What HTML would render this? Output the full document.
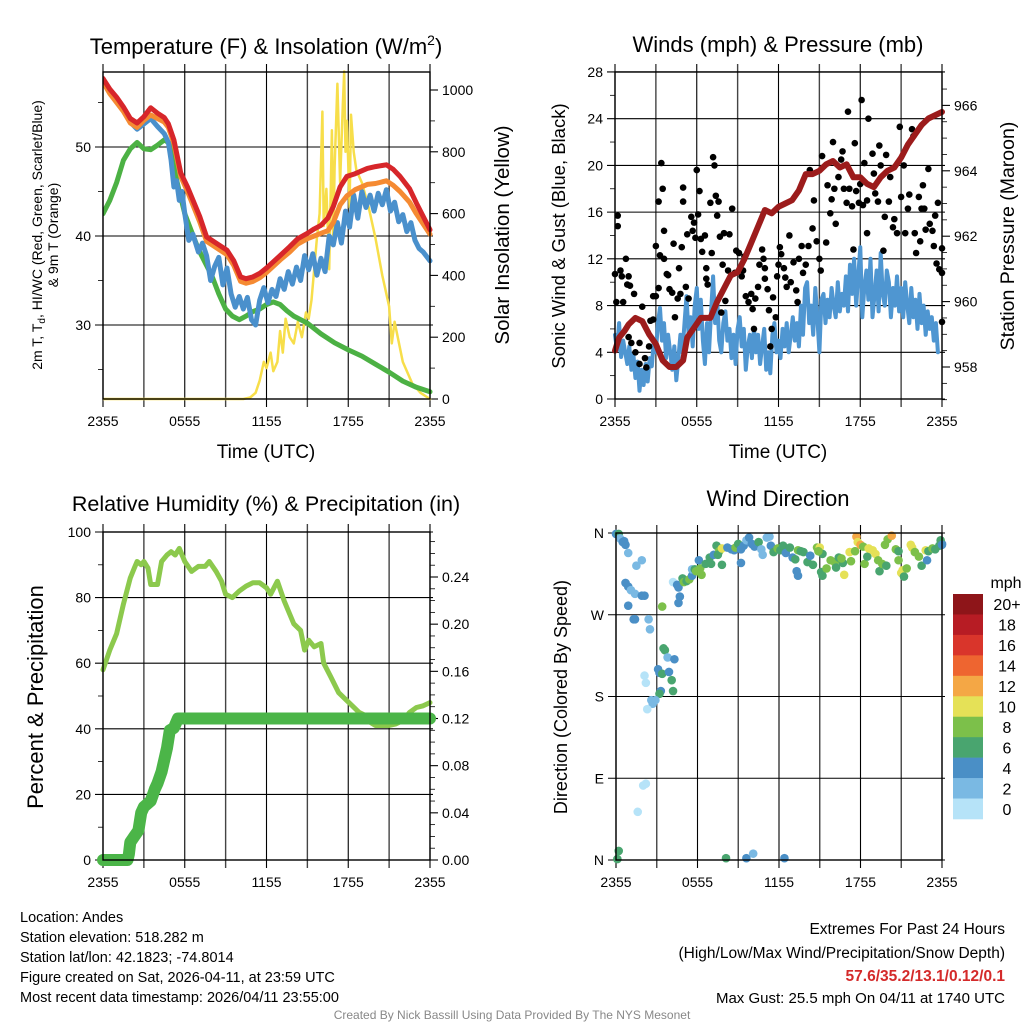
<!DOCTYPE html>
<html><head><meta charset="utf-8"><style>
html,body{margin:0;padding:0;background:#fff;}
svg{display:block;font-family:"Liberation Sans",Arial,sans-serif;}
</style></head><body>
<svg id="s" width="1024" height="1024" viewBox="0 0 1024 1024" xmlns="http://www.w3.org/2000/svg"></svg>
<script>
// ---------- DATA ----------
const tempT=[0,0.5,1,1.5,2,2.5,3,3.5,4,4.5,4.8,5.2,5.7,6.2,7.1,7.6,8.3,9.1,9.6,10.1,10.5,11,11.5,12,12.5,13,13.7,14.3,15,15.5,16,16.5,16.9,17.4,17.9,18.5,19.4,20,20.8,21.3,21.8,22.5,23,24];
const tempRed=[57.7,56.5,55.6,54.5,53.2,52.7,53.4,54.4,53.8,53.3,52.6,50.8,47.1,45.5,42.2,39.9,39.2,38.4,37.2,35.4,35.2,35.4,35.8,36.4,37.1,37.8,38.8,39.7,40.3,40.8,41.2,42,43.3,45.5,46.7,47,47.6,47.8,48,47.5,46.7,45.3,43.7,40.7];
const tempOrange=[57.3,56,55,54,52.7,52.2,53,53.6,53.2,52.8,52.2,50.4,46.7,45,41.6,39.4,38.7,37.9,36.7,34.9,34.7,34.9,35.3,35.9,36.6,37.3,38.2,39.1,39.7,40,40.3,40.6,41.5,43.5,44.5,45.2,45.8,45.9,46.2,45.7,45,43.8,42.5,40.2];
const blueT=[0,0.5,1,1.5,2,2.5,3,3.5,4,4.5,4.8,5,5.2,5.4,5.6,5.8,6,6.3,6.6,7,7.3,7.6,7.9,8.2,8.5,8.8,9.1,9.4,9.7,10,10.3,10.6,10.9,11.2,11.5,11.8,12.1,12.4,12.7,13,13.3,13.6,13.9,14.2,14.5,14.8,15.1,15.4,15.7,16,16.3,16.6,16.9,17.2,17.5,17.8,18.1,18.4,18.7,19,19.3,19.6,19.9,20.2,20.5,20.8,21.1,21.4,21.7,22,22.3,22.6,22.9,23.2,23.5,24];
const tempBlue=[57.4,56.2,55.2,54.1,52.8,52,52.6,53.2,52.3,51.5,50.5,48.5,45.5,46.2,44,45,42.5,39.5,40.2,38.2,39.2,37.8,35,36.6,37.6,34.5,36.4,33.5,32,33.2,31.8,33.1,30.6,30,32.8,34.2,32.5,34,33.2,35.2,34,36,34.6,36.5,35,37.8,36.2,38,35.6,37.5,36,40,39,41.5,39.2,42.8,41,44.6,42,45,43.2,44.6,42.8,44.8,43.5,45.2,42.8,43.8,41.6,42.4,40.5,41.5,39.5,38.6,38.2,37.2];
const dewT=[0,0.5,1,1.5,2,2.5,3,3.5,4,4.5,5,5.3,5.6,6,6.5,7,7.5,8,8.5,9,9.5,10,10.5,11,11.5,12,12.5,13,13.5,14,15,16,17,18,19,20,21,22,23,24];
const dewPt=[42.5,44,46,48.5,49.8,50.5,49.8,49.7,50.2,50.8,50.3,47,45,42.5,40.5,38.5,37,35.5,33.5,31.8,31,30.6,31,31.5,31.8,32.3,32.6,32.3,31.6,31,30.2,29,28,27.2,26.5,25.6,24.7,23.7,23,22.5];
const solT=[0,10.3,10.8,11.2,11.5,11.8,12,12.3,12.5,12.8,13,13.2,13.4,13.7,14,14.3,14.6,14.9,15.1,15.3,15.5,15.7,15.9,16.1,16.2,16.4,16.6,16.8,16.9,17,17.2,17.4,17.6,17.7,17.8,17.9,18.1,18.2,18.4,18.6,19,19.5,20,20.5,21,21.2,21.4,22,22.7,23.3,24];
const solW=[0,0,5,20,60,120,100,150,90,120,220,150,260,200,180,250,200,280,260,320,420,520,600,930,560,680,420,870,500,750,1020,700,950,1060,800,900,620,920,800,740,700,620,520,400,300,180,250,120,50,20,0];
const presT=[0,0.3,0.7,1,1.5,2,2.5,3,3.5,4,4.5,5,5.3,5.8,6.3,7,7.5,8,8.5,9,9.5,10,10.5,11,11.5,12,12.5,13,13.5,14,14.5,15,15.5,16,16.5,17,17.5,18,18.5,19,19.5,20,20.5,21,21.5,22,22.5,23,24];
const presMb=[958.5,958.9,959.1,959.3,959.5,959.4,959.0,958.7,958.2,958.0,958.0,958.2,958.9,959.2,959.5,959.5,960.0,960.4,960.8,960.9,961.3,961.8,962.3,962.8,962.7,962.9,963.0,963.1,963.4,963.9,963.9,964.0,964.2,964.3,964.1,964.2,963.8,963.8,963.6,963.5,963.8,964.0,964.1,964.4,964.8,965.1,965.4,965.6,965.8];
const windT=[0,0.15,0.3,0.45,0.6,0.75,0.9,1.05,1.2,1.35,1.5,1.65,1.8,1.95,2.1,2.25,2.4,2.55,2.7,2.85,3,3.15,3.3,3.45,3.6,3.75,3.9,4.05,4.2,4.35,4.5,4.65,4.8,4.95,5.1,5.25,5.4,5.55,5.7,5.85,6,6.15,6.3,6.45,6.6,6.75,6.9,7.05,7.2,7.35,7.5,7.65,7.8,7.95,8.1,8.25,8.4,8.55,8.7,8.85,9,9.15,9.3,9.45,9.6,9.75,9.9,10.05,10.2,10.35,10.5,10.65,10.8,10.95,11.1,11.25,11.4,11.55,11.7,11.85,12,12.15,12.3,12.45,12.6,12.75,12.9,13.05,13.2,13.35,13.5,13.65,13.8,13.95,14.1,14.25,14.4,14.55,14.7,14.85,15,15.15,15.3,15.45,15.6,15.75,15.9,16.05,16.2,16.35,16.5,16.65,16.8,16.95,17.1,17.25,17.4,17.55,17.7,17.85,18,18.15,18.3,18.45,18.6,18.75,18.9,19.05,19.2,19.35,19.5,19.65,19.8,19.95,20.1,20.25,20.4,20.55,20.7,20.85,21,21.15,21.3,21.45,21.6,21.75,21.9,22.05,22.2,22.35,22.5,22.65,22.8,22.95,23.1,23.25,23.4,23.55,23.7,23.85,24];
const windMph=[5.5,4.2,6.5,3.6,5,4,3,4.5,2.5,3.8,1.8,3.2,0.7,2.5,1.2,3,1.5,3.5,2.8,5,4,6.5,7.8,5,6.5,3.5,5.5,4,2.5,4.5,1.6,3.5,5.5,4,6.5,8.8,5.5,7,4.5,8,9.5,6,8.5,5,3,6.5,4,7.5,10.5,6.5,8.5,5,4,6.5,7.5,5,6,3.5,5.5,3,6,7,4.5,6,2.5,4.5,5.5,3.5,6,4,5.5,3,4.5,6,2.5,4,2.2,5.5,6.5,4,5,3.5,6,4.5,6.5,4,5.5,7,5,6.5,4.5,8,5.5,9.5,10,6.5,8,5.5,9.5,7,4,8.5,9,6.5,8.5,7,9.5,8,7,10,7.5,9,8,10.5,7.5,11.5,9,12,8,10.5,13,7,9.5,11,8.5,12,7,9,11,7.5,12.5,9,8,11,10,7,9.5,8,10.5,7.5,9.5,7,10,8,6.5,9.5,7,8.5,6,9,6.5,8,5.5,7.5,6,7,5,6.5,4];
const gustT=[0,0.1,0.2,0.2,0.4,0.5,0.6,0.8,0.9,1,1.1,1.4,1.0,1.2,1.5,1.8,1.8,2.0,2.2,2.3,2.5,2.6,2.8,2.8,3.0,3.0,3.2,3.2,3.4,3.3,3.5,3.6,3.6,3.8,3.9,4.0,4.2,4.3,4.4,4.6,4.7,4.8,4.9,5.0,5.0,5.2,5.3,5.4,5.6,5.7,5.8,5.9,6.0,6.1,6.2,6.3,6.4,6.6,6.7,6.7,6.8,7.0,7.1,7.2,7.3,7.4,7.5,7.6,7.7,7.9,7.8,8.0,8.1,8.3,8.4,8.6,8.8,8.9,9.1,9.3,9.4,9.5,9.6,9.8,10.0,10.1,10.2,10.3,10.5,10.6,10.8,10.9,11.0,11.0,11.2,11.3,11.4,11.5,11.6,11.8,11.9,12.0,12.1,12.2,12.4,12.5,12.6,12.8,12.9,13.1,13.3,13.4,13.5,13.7,13.8,14.0,14.2,14.3,14.5,14.6,14.8,15.0,15.1,15.2,15.5,15.6,15.8,15.9,16.0,16.1,16.2,16.4,16.6,16.7,16.8,17.0,17.1,17.2,17.4,17.5,17.6,17.7,17.9,18.0,18.1,18.2,18.3,18.5,18.6,18.5,18.9,19.0,19.1,19.3,19.4,19.5,19.7,19.8,19.9,20.1,20.2,20.4,20.5,20.7,20.9,21.0,21.2,21.3,21.5,21.6,21.8,21.9,22.0,22.1,22.3,22.4,22.5,22.6,22.7,22.8,23.0,23.1,23.3,23.4,23.5,23.6,23.7,23.8,24,24,24];
const gustMph=[10.7,8.3,15.7,14.8,11,10.5,8.3,12,9.8,10.5,9.7,9,5.3,4.8,4,3,4.8,7.9,3.5,2.7,4.5,6.7,6.8,8.8,8.8,13.1,9.5,16.9,20.2,12.3,18,12,14.4,10.7,10.6,9.4,9.1,13.3,7,8.6,11.2,9,13,18.1,16.9,9.6,14.1,8.6,15.6,14.4,15.1,13.8,19.6,15.8,17.8,13.7,12.6,14,11.2,10.3,9.8,16.8,12.5,20.7,20,17.4,15.7,16.9,13.9,11.5,7.4,14.2,8.4,11,14.1,16.3,10.8,12.7,12.5,10.5,11,12.2,8.8,8.3,9,7.7,6,8.6,9.6,11.5,12.8,12,11.2,10.3,9.4,7.6,4.5,6,8.7,7,10.5,11.5,13,12.4,11.2,10.4,9.6,14,10,11.7,9.3,8.3,12,13.1,10.8,11.5,13.1,19.6,14.6,17,13.5,12,11,20.8,13.4,18.3,15.9,17.1,22,18,15,19,20.5,21.2,18,16.8,24.6,18,16.5,12.8,21.9,17.8,16.8,18.4,25.6,16.6,20.2,14.2,24,17,21,19.3,17.6,16.9,21.7,20,12.7,15.6,20.9,16.9,19,14.7,15.4,14.2,23.3,17.3,20,14.2,16.3,17.5,23.1,22.5,14.2,12.5,17.3,13.5,16.3,18.3,16.3,14.5,19.7,15,14.4,13.1,15.7,11.6,16.8,11.1,12.9,10.8,6.6];
const rhT=[0,0.5,1,1.5,2,2.3,2.5,2.8,3,3.3,3.5,4,4.3,4.7,5,5.3,5.6,6,6.5,7,7.5,7.8,8.3,8.7,9,9.5,10,10.5,11,11.5,12,12.3,12.8,13.3,13.5,14,14.5,14.8,15.1,15.5,16,16.2,16.7,17.3,17.8,18.3,18.8,19.3,19.6,20,20.5,21,21.5,22,22.5,23,23.5,24];
const rhPct=[58,64,69,78,86,89,91,90,91,89,84,84,91,93,94,93,95,91,88,89.5,89.5,91,88,85,81,80,82,83.5,84.5,84.5,83,81,85,79,77,72,70,64,67,65,66,60,56,51,49,47,45,44,42,41,41,41,41.5,42.5,45,46.5,47,48];
const prT=[0,1.8,1.9,2.0,2.3,2.6,2.8,3.0,3.5,3.8,4.0,4.3,4.5,4.7,4.9,5.2,5.5,24];
const prIn=[0,0,0.005,0.015,0.02,0.025,0.04,0.045,0.05,0.06,0.065,0.075,0.085,0.095,0.11,0.112,0.12,0.12];
const dirT=[0.0,0.2,0.3,0.5,0.6,0.7,0.9,1.5,1.9,0.7,0.9,1.1,1.4,1.9,2.1,0.9,1.3,1.4,2.4,2.5,3.4,3.5,3.6,3.1,3.8,4.3,3.2,3.4,3.9,4.1,4.2,3.3,3.2,2.1,2.2,2.6,2.9,2.7,2.3,2.0,2.2,1.6,0.2,0.1,8.1,9.6,10.1,12.4,4.2,4.5,4.6,4.7,4.6,4.9,5.0,5.2,5.4,5.6,5.6,5.8,5.9,6.2,6.1,6.3,6.6,6.9,7.0,7.2,7.4,7.6,7.5,7.8,7.8,8.2,8.5,8.7,8.8,9.0,9.2,9.2,9.4,9.6,9.8,10.0,10.2,10.5,10.7,10.8,11.1,11.3,11.4,11.6,11.9,12.1,12.3,12.5,12.8,13.0,13.2,13.4,13.6,13.8,13.3,13.4,14.1,14.3,14.5,14.8,15.0,15.2,15.1,15.2,15.5,15.8,16.1,16.4,16.7,16.8,17.2,17.3,17.6,17.7,17.8,18.0,18.3,18.5,18.2,18.6,18.9,19.1,19.3,19.4,19.6,19.9,19.8,20.0,20.3,20.6,20.8,21.0,21.1,21.2,21.4,21.7,21.8,22.0,22.3,22.5,22.8,23.0,23.3,23.5,23.8,24.0,23.9,24.0,22.9,20.8,16.6,16.2,14.9];
const dirDeg=[359,359,354,350,351,347,338,324,330,305,301,297,293,291,291,280,265,265,265,254,279,233,231,210,223,221,206,205,207,198,186,186,183,203,195,176,176,172,166,82,84,53,10,1,2,2,7,2,306,303,300,290,283,310,306,307,309,313,320,320,318,321,330,314,326,333,326,336,346,340,336,343,325,344,342,341,344,348,342,327,346,352,355,348,345,350,342,336,355,356,346,339,343,341,346,338,344,333,331,341,340,339,318,313,328,335,325,344,344,337,317,313,321,330,328,333,327,314,339,329,340,356,350,347,326,334,345,343,341,337,330,318,326,324,347,353,357,342,330,316,319,312,321,347,344,339,334,324,341,340,343,342,346,348,352,347,330,340,332,322,340];
const dirSpd=[5,6,3,4,4,4,2,2,2,4,4,3,2,4,4,4,4,4,3,3,8,6,6,4,3,4,4,6,4,6,6,4,6,1,1,3,3,3,1,1,1,1,6,6,6,4,3,4,1,4,4,4,4,6,8,6,8,4,2,6,8,8,4,8,6,6,6,4,6,8,6,10,6,4,4,4,8,6,4,4,4,2,4,4,4,6,2,2,2,2,4,6,8,6,6,4,6,4,6,8,6,6,4,4,6,4,6,8,10,6,6,6,8,8,8,6,6,10,10,8,8,12,10,12,8,6,8,10,10,10,8,6,8,6,8,8,12,8,8,10,10,6,8,10,10,8,8,6,10,6,8,6,6,4,6,4,4,6,8,6,8];
const cbLabels=['20+','18','16','14','12','10','8','6','4','2','0'];
const cbColors=['#8e1519','#b71c24','#d9352b','#ee6530','#f4a745','#e5e157','#7cc04a','#49a56f','#4a8fc6','#7ab9e3','#b6e3f8'];

// ---------- HELPERS ----------
const NS='http://www.w3.org/2000/svg';
const svg=document.getElementById('s');
function mk(tag,attrs,parent){const e=document.createElementNS(NS,tag);for(const k in attrs)e.setAttribute(k,attrs[k]);(parent||svg).appendChild(e);return e;}
function txt(s,x,y,size,anchor,parent,extra){const e=mk('text',Object.assign({x:x,y:y,'font-size':size,'text-anchor':anchor||'middle',fill:'#000'},extra||{}),parent);e.textContent=s;return e;}
function colorFor(s){const i=Math.min(10,Math.floor(s/2));return cbColors[10-i];}
const tickLbl=['2355','0555','1155','1755','2355'];

function frame(P,name){
  const g=mk('g',{});
  
  
  for(let h=0;h<=24;h+=3){const x=P.L+h/24*(P.R-P.L);
    const l=mk('line',{x1:x,x2:x,y1:P.T-8,y2:P.B+8,stroke:(h%6==0)?'#000':'#444','stroke-width':(h%6==0)?1.1:1.4},g);
    
    }
  for(let i=0;i<5;i++){const x=P.L+i/4*(P.R-P.L);
    const t=txt(tickLbl[i],x,P.B+27,14,'middle',g);
    
    }
  return g;
}
function leftAxis(P,g,vals,minor,yf,fmt){
  vals.forEach(v=>{const y=yf(v);
    mk('line',{x1:P.L-8,x2:P.R+3,y1:y,y2:y,stroke:'#000','stroke-width':1.1},g);
    const t=txt(fmt?fmt(v):String(v),P.L-12,y+5,14,'end',g);
    
    });
  minor.forEach(v=>{const y=yf(v);mk('line',{x1:P.L-5,x2:P.L,y1:y,y2:y,stroke:'#000','stroke-width':0.8},g);});
}
function rightAxis(P,g,vals,minor,yf,fmt){
  vals.forEach(v=>{const y=yf(v);
    mk('line',{x1:P.R,x2:P.R+8,y1:y,y2:y,stroke:'#000','stroke-width':1.1},g);
    const t=txt(fmt?fmt(v):String(v),P.R+12,y+5,14,'start',g);
    
    });
  minor.forEach(v=>{const y=yf(v);mk('line',{x1:P.R,x2:P.R+5,y1:y,y2:y,stroke:'#000','stroke-width':0.8},g);});
}
function box(P,g){mk('rect',{x:P.L,y:P.T,width:P.R-P.L,height:P.B-P.T,fill:'none',stroke:'#000','stroke-width':1.4},g);}
function line(P,g,T,V,yf,color,w,name){
  const xf=t=>P.L+t/24*(P.R-P.L);
  const d=T.map((t,i)=>(i?'L':'M')+xf(t).toFixed(1)+' '+yf(V[i]).toFixed(1)).join(' ');
  const p=mk('path',{d:d,fill:'none',stroke:color,'stroke-width':w,'stroke-linejoin':'round','stroke-linecap':'round'},g);
  
  
  return p;
}
function rotText(s,x,y,size,g,name){const t=txt(s,x,y,size,'middle',g,{transform:'rotate(-90 '+x+' '+y+')'});
  
  return t;}

// ---------- PANEL 1 ----------
(function(){
const P={L:103,R:430,T:72,B:399};
const yT=v=>325-(v-30)*8.9, yI=w=>399-w*0.309;
const g=frame(P,'temperature-panel');
leftAxis(P,g,[30,40,50],[25,35,45,55],yT);
rightAxis(P,g,[0,200,400,600,800,1000],[100,300,500,700,900],yI);
const clip=mk('clipPath',{id:'c1'},g);mk('rect',{x:P.L,y:P.T-2,width:P.R-P.L+3,height:P.B-P.T+4},clip);
const cg=mk('g',{'clip-path':'url(#c1)'},g);
line(P,cg,solT,solW,yI,'#f7de4a',2.5,'solar-insolation-line');
line(P,cg,dewT,dewPt,yT,'#4cb144',5,'dewpoint-line');
line(P,cg,blueT,tempBlue,yT,'#4a90cc',5,'heat-index-windchill-line');
line(P,cg,tempT,tempOrange,yT,'#f58a32',5,'temp-9m-line');
line(P,cg,tempT,tempRed,yT,'#d7262a',5,'temp-2m-line');
box(P,g);
const title=txt('',266,54,22,'middle',g);title.innerHTML='Temperature (F) &amp; Insolation (W/m<tspan dy="-9" font-size="14">2</tspan><tspan dy="9">)</tspan>';


const xt=txt('Time (UTC)',266,458,19,'middle',g);


const lt=txt('',42,235,14,'middle',g,{transform:'rotate(-90 42 235)'});
lt.innerHTML='2m T, T<tspan font-size="10" dy="3">d</tspan><tspan dy="-3">, HI/WC (Red, Green, Scarlet/Blue)</tspan>';


rotText('& 9m T (Orange)',58,235,14,g,'y-axis-title-line2');
rotText('Solar Insolation (Yellow)',509,235,20.5,g,'right-axis-title');
})();

// ---------- PANEL 2 ----------
(function(){
const P={L:615,R:942,T:72,B:399};
const yW=v=>399-v*11.68, yP=p=>367-(p-958)*32.7;
const g=frame(P,'winds-panel');
leftAxis(P,g,[0,4,8,12,16,20,24,28],[2,6,10,14,18,22,26],yW);
rightAxis(P,g,[958,960,962,964,966],[957,957.5,958.5,959,959.5,960.5,961,961.5,962.5,963,963.5,964.5,965,965.5,966.5],yP);
const clip=mk('clipPath',{id:'c2'},g);mk('rect',{x:P.L-4,y:P.T-2,width:P.R-P.L+8,height:P.B-P.T+4},clip);
const cg=mk('g',{'clip-path':'url(#c2)'},g);
line(P,cg,windT,windMph,yW,'#4f96d1',4,'sonic-wind-line');
const xf=t=>P.L+t/24*(P.R-P.L);
gustT.forEach((t,i)=>{const c=mk('circle',{cx:xf(t),cy:yW(gustMph[i]),r:3.3,fill:'#000'},cg);
  
  });
line(P,cg,presT,presMb,yP,'#9c1c1c',6,'pressure-line');
box(P,g);
const title=txt('Winds (mph) & Pressure (mb)',778,52,22,'middle',g);


const xt=txt('Time (UTC)',778,458,19,'middle',g);


rotText('Sonic Wind & Gust (Blue, Black)',565,236,18.5,g,'y-axis-title');
rotText('Station Pressure (Maroon)',1014,236,19.5,g,'right-axis-title');
})();

// ---------- PANEL 3 ----------
(function(){
const P={L:103,R:430,T:532,B:860};
const yR=v=>860-v*3.28, yPr=v=>860-v/0.24*283;
const g=frame(P,'humidity-panel');
leftAxis(P,g,[0,20,40,60,80,100],[10,30,50,70,90],yR);
rightAxis(P,g,[0,0.04,0.08,0.12,0.16,0.20,0.24],[0.01,0.02,0.03,0.05,0.06,0.07,0.09,0.10,0.11,0.13,0.14,0.15,0.17,0.18,0.19,0.21,0.22,0.23,0.25,0.26,0.27],yPr,v=>v.toFixed(2));
line(P,g,rhT,rhPct,yR,'#8cc94d',5,'relative-humidity-line');
line(P,g,prT,prIn,yPr,'#4bb548',12,'precipitation-line');
box(P,g);
const title=txt('Relative Humidity (%) & Precipitation (in)',266,511,21.5,'middle',g);


rotText('Percent & Precipitation',43,697,22,g,'y-axis-title');
})();

// ---------- PANEL 4 ----------
(function(){
const P={L:616,R:942,T:533,B:860};
const yD=d=>860-d/360*327;
const g=frame(P,'wind-direction-panel');
leftAxis(P,g,[0,90,180,270,360],[],yD,v=>({0:'N',90:'E',180:'S',270:'W',360:'N'})[v]);
const xf=t=>P.L+t/24*(P.R-P.L);
dirT.forEach((t,i)=>{const c=mk('circle',{cx:xf(t),cy:yD(dirDeg[i]),r:4.3,fill:colorFor(dirSpd[i])},g);
  
  });
box(P,g);
const title=txt('Wind Direction',778,506,22,'middle',g);


rotText('Direction (Colored By Speed)',567,697,18,g,'y-axis-title');
const cb=mk('g',{});


const h=225/11;
cbColors.forEach((c,i)=>{mk('rect',{x:953,y:594+i*h,width:30,height:h+0.3,fill:c},cb);
  const t=txt(cbLabels[i],1007,594+i*h+h/2+6,16,'middle',cb);
  
  });
const m=txt('mph',1006,588,16,'middle',cb);


})();

// ---------- FOOTER TEXT ----------
const info=['Location: Andes','Station elevation: 518.282 m','Station lat/lon: 42.1823; -74.8014','Figure created on Sat, 2026-04-11, at 23:59 UTC','Most recent data timestamp: 2026/04/11 23:55:00'];
info.forEach((s,i)=>{const t=txt(s,20,922+i*20,14.5,'start');
  
  });
const r1=txt('Extremes For Past 24 Hours',1005,934,15.5,'end');


const r2=txt('(High/Low/Max Wind/Precipitation/Snow Depth)',1005,958,15.5,'end');


const r3=txt('57.6/35.2/13.1/0.12/0.1',1005,981,15.5,'end',null,{fill:'#d42a2a','font-weight':'bold'});


const r4=txt('Max Gust: 25.5 mph On 04/11 at 1740 UTC',1005,1003,15,'end');


const cr=txt('Created By Nick Bassill Using Data Provided By The NYS Mesonet',512,1019,12,'middle',null,{fill:'#888'});


</script>
</body></html>
